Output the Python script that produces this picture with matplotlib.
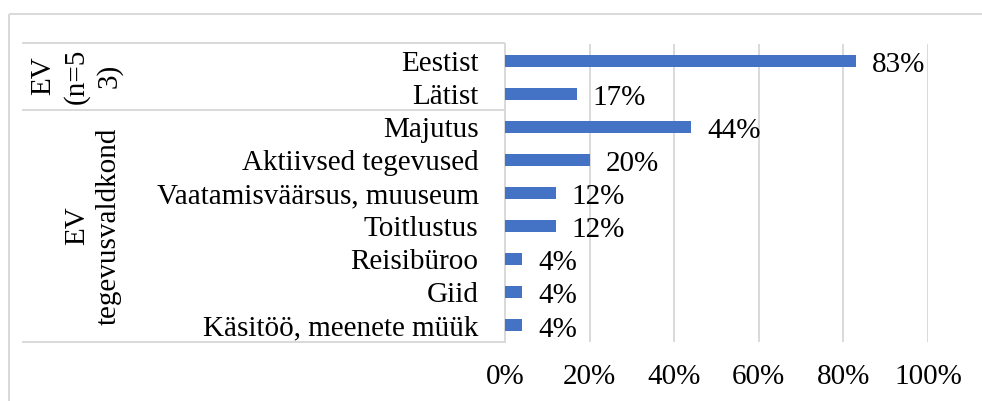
import matplotlib
matplotlib.use("Agg")
import matplotlib.pyplot as plt

categories = ["Eestist", "Lätist", "Majutus", "Aktiivsed tegevused",
              "Vaatamisväärsus, muuseum", "Toitlustus", "Reisibüroo", "Giid",
              "Käsitöö, meenete müük"]
values = [83, 17, 44, 20, 12, 12, 4, 4, 4]
xticks = [0, 20, 40, 60, 80, 100]
xtick_labels = ["0%", "20%", "40%", "60%", "80%", "100%"]

FONT = "Liberation Serif"
FS = 21
GRID = "#D9D9D9"
BAR = "#4472C4"

W, H = 982, 401
fig = plt.figure(figsize=(W / 100, H / 100), dpi=100)
fig.patch.set_facecolor("white")

# background overlay in pixel coordinates for frame / group labels
bg = fig.add_axes([0, 0, 1, 1], zorder=0)
bg.set_xlim(0, W)
bg.set_ylim(H, 0)
bg.axis("off")
# outer chart border
bg.plot([9, W], [14, 14], color=GRID, lw=1.4, solid_capstyle="butt")
bg.plot([9, 9], [14, H], color=GRID, lw=1.4, solid_capstyle="butt")
# category group separators
for yy in (43, 110, 342):
    bg.plot([22, 505], [yy, yy], color=GRID, lw=1.4, solid_capstyle="butt")

# group labels (rotated)
def vtext(x, y, s):
    bg.text(x, y, s, rotation=90, rotation_mode="anchor", ha="center",
            va="baseline", fontsize=FS, family=FONT, color="black")

vtext(50, 76, "EV")
vtext(83, 76, "(n=5")
vtext(116, 76, "3)")
vtext(84, 226, "EV")
vtext(116, 226, "tegevusvaldkond")

# main axes
left, right, top, bottom = 505, 928, 44, 342
ax = fig.add_axes([left / W, 1 - bottom / H, (right - left) / W, (bottom - top) / H],
                  zorder=1)
ax.patch.set_alpha(0)
pos = list(range(len(categories)))
ax.barh(pos, values, height=0.36, color=BAR, zorder=3)
ax.set_xlim(0, 100)
ax.set_ylim(len(categories) - 0.5, -0.5)
ax.set_xticks(xticks)
ax.set_xticklabels(xtick_labels, fontsize=FS, family=FONT)
ax.set_yticks(pos)
ax.set_yticklabels(categories, fontsize=FS, family=FONT)
ax.tick_params(axis="x", length=0, pad=16)
ax.tick_params(axis="y", length=0, pad=19)
ax.grid(axis="x", color=GRID, lw=1.4, zorder=0)
for s in ("top", "right", "bottom"):
    ax.spines[s].set_visible(False)
ax.spines["left"].set_color(GRID)
ax.spines["left"].set_linewidth(1.4)

for i, v in enumerate(values):
    ax.annotate(f"{v}%", xy=(v, i), xytext=(11.5, -3), textcoords="offset points",
                ha="left", va="center", fontsize=FS, family=FONT, color="black")

fig.savefig("out.png", dpi=100)
